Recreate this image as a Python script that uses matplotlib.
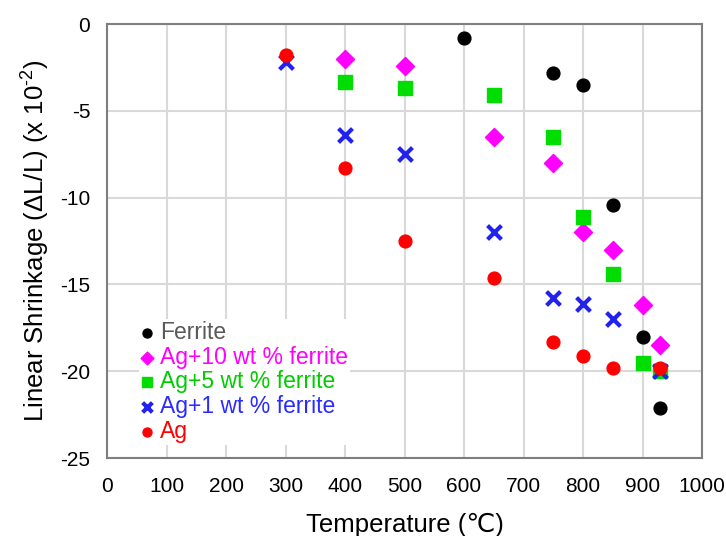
import matplotlib
matplotlib.use("Agg")
import matplotlib.pyplot as plt

plt.rcParams['font.family'] = ['Liberation Sans', 'DejaVu Sans']
plt.rcParams['mathtext.fontset'] = 'custom'
plt.rcParams['mathtext.rm'] = 'Liberation Sans'
plt.rcParams['mathtext.it'] = 'Liberation Sans:italic'
plt.rcParams['axes.unicode_minus'] = False

# data
ferrite_t = [600, 750, 800, 850, 900, 930]
ferrite_s = [-0.8, -2.8, -3.5, -10.4, -18.0, -22.1]

ag10_t = [400, 500, 650, 750, 800, 850, 900, 930]
ag10_s = [-2.0, -2.4, -6.5, -8.0, -12.0, -13.0, -16.2, -18.5]

ag5_t = [400, 500, 650, 750, 800, 850, 900, 930]
ag5_s = [-3.35, -3.7, -4.1, -6.5, -11.1, -14.4, -19.5, -20.0]

ag1_t = [300, 400, 500, 650, 750, 800, 850, 930]
ag1_s = [-2.2, -6.4, -7.5, -12.0, -15.8, -16.1, -17.0, -20.0]

ag_t = [300, 400, 500, 650, 750, 800, 850, 930]
ag_s = [-1.8, -8.3, -12.5, -14.6, -18.3, -19.1, -19.8, -19.8]

labels = ['Ferrite', 'Ag+10 wt % ferrite', 'Ag+5 wt % ferrite', 'Ag+1 wt % ferrite', 'Ag']
text_colors = ['#595959', '#ff00ff', '#00cc00', '#2b2bff', '#ff0000']

fig = plt.figure(figsize=(7.26, 5.36), dpi=100)
ax = fig.add_axes([0.1474, 0.1455, 0.8196, 0.8095])

ax.scatter(ferrite_t, ferrite_s, s=85, c='black', marker='o', label=labels[0], zorder=3)
ax.scatter(ag10_t, ag10_s, s=85, c='#ff00ff', marker='D', label=labels[1], zorder=3)
ax.scatter(ag5_t, ag5_s, s=110, c='#00dd00', marker='s', label=labels[2], zorder=3)
ax.scatter(ag1_t, ag1_s, s=100, c='#2222ee', marker='x', linewidths=3, label=labels[3], zorder=3)
ax.scatter(ag_t, ag_s, s=85, c='#ff0000', marker='o', label=labels[4], zorder=4)

ax.set_xlim(0, 1000)
ax.set_ylim(-25, 0)
ax.set_xticks(range(0, 1001, 100))
ax.set_yticks(range(-25, 1, 5))
ax.grid(True, color='#d9d9d9', linewidth=1.5)
ax.set_axisbelow(True)
ax.tick_params(length=0, labelsize=15)
ax.tick_params(axis='x', pad=14)
ax.tick_params(axis='y', pad=12)
for sp in ax.spines.values():
    sp.set_color('#7f7f7f')
    sp.set_linewidth(1.5)

ax.set_xlabel('Temperature (\u2103)', fontsize=18.5, labelpad=12)
ax.set_ylabel('Linear Shrinkage ($\\mathit{\\Delta}$L/L) (x 10$^{\\text{-2}}$)', fontsize=18.5, labelpad=6)

leg = ax.legend(loc='lower left', bbox_to_anchor=(0.054, 0.03), borderaxespad=0,
                fontsize=16.5, handlelength=0.5, handletextpad=0.3, labelspacing=0.07,
                borderpad=0.1, frameon=True, framealpha=1, edgecolor='none',
                fancybox=False, scatterpoints=1, markerscale=0.7)
for t, c in zip(leg.get_texts(), text_colors):
    t.set_color(c)

fig.savefig('out.png', dpi=100)
